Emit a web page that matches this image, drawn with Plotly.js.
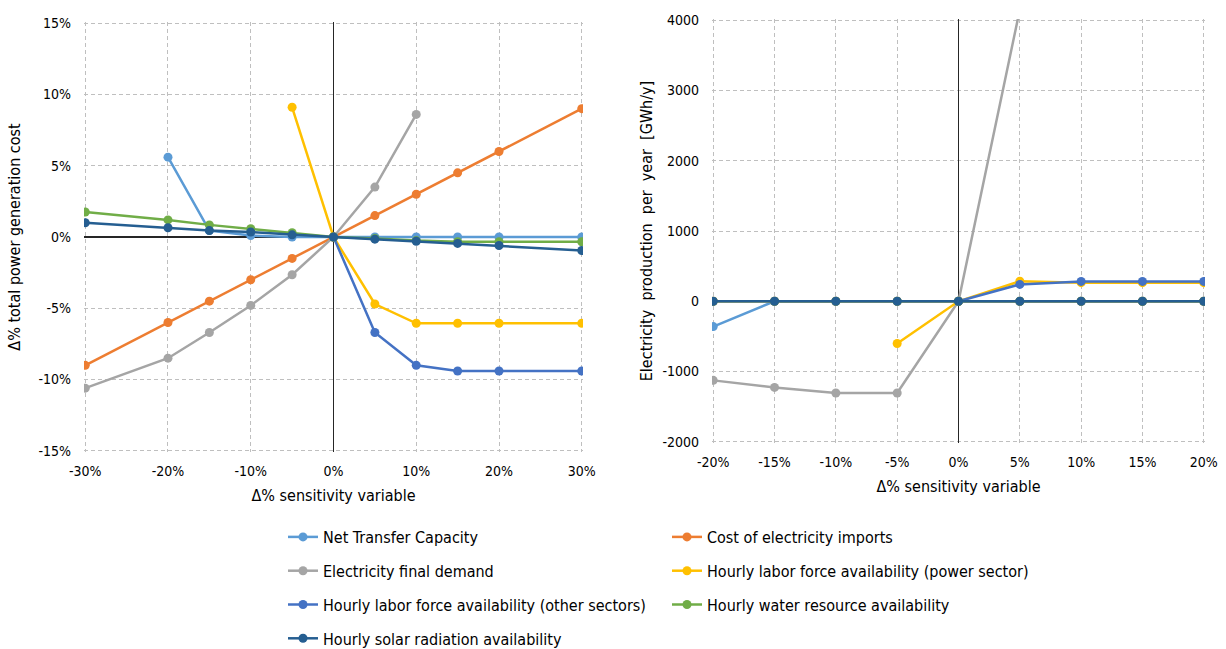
<!DOCTYPE html>
<html>
<head>
<meta charset="utf-8">
<script src="https://cdn.plot.ly/plotly-3.0.1.min.js"></script>
<style>html,body{margin:0;padding:0;background:#fff;}#chart{width:1226px;height:649px;}</style>
</head>
<body>
<div id="chart"></div>
<script>
// ---- Data ----
const seriesNames = [
  "Net Transfer Capacity",
  "Cost of electricity imports",
  "Electricity final demand",
  "Hourly labor force availability (power sector)",
  "Hourly labor force availability (other sectors)",
  "Hourly water resource availability",
  "Hourly solar radiation availability"
];
const seriesColors = ["#5B9BD5", "#ED7D31", "#A5A5A5", "#FFC000", "#4472C4", "#70AD47", "#255E91"];

// Left chart: Δ% total power generation cost (%)
const leftX = [-30, -20, -15, -10, -5, 0, 5, 10, 15, 20, 30];
const ntcL = [null, 5.6, 0.45, 0.1, 0, 0, 0, 0, 0, 0, 0];
const costL = [-9, -6, -4.5, -3, -1.5, 0, 1.5, 3, 4.5, 6, 9];
const demandL = [-10.6, -8.5, -6.7, -4.8, -2.65, 0, 3.5, 8.6, null, null, null];
const laborPowerL = [null, null, null, null, 9.1, 0, -4.7, -6.05, -6.05, -6.05, -6.05];
const laborOtherL = [null, null, null, null, null, 0, -6.7, -9.0, -9.4, -9.4, -9.4];
const waterL = [1.75, 1.2, 0.85, 0.58, 0.3, 0, -0.1, -0.25, -0.33, -0.33, -0.33];
const solarL = [1.0, 0.65, 0.45, 0.35, 0.15, 0, -0.15, -0.3, -0.45, -0.6, -0.95];

// Right chart: Electricity production per year [GWh/y]
const rightX = [-20, -15, -10, -5, 0, 5, 10, 15, 20];
const ntcR = [-360, 0, 0, 0, 0, 0, 0, 0, 0];
const costR = [0, 0, 0, 0, 0, 0, 0, 0, 0];
const demandR = [-1125, -1225, -1305, -1305, 0, 4150, null, null, null];
const laborPowerR = [null, null, null, -600, 0, 285, 265, 265, 265];
const laborOtherR = [null, null, null, null, 0, 240, 283, 283, 283];
const waterR = [0, 0, 0, 0, 0, 0, 0, 0, 0];
const solarR = [0, 0, 0, 0, 0, 0, 0, 0, 0];

// Tick labels
const leftXTicks = [-30, -20, -10, 0, 10, 20, 30];
const leftXTickText = ["-30%", "-20%", "-10%", "0%", "10%", "20%", "30%"];
const leftYTicks = [-15, -10, -5, 0, 5, 10, 15];
const leftYTickText = ["-15%", "-10%", "-5%", "0%", "5%", "10%", "15%"];
const rightXTicks = [-20, -15, -10, -5, 0, 5, 10, 15, 20];
const rightXTickText = ["-20%", "-15%", "-10%", "-5%", "0%", "5%", "10%", "15%", "20%"];
const rightYTicks = [-2000, -1000, 0, 1000, 2000, 3000, 4000];
const rightYTickText = ["-2000", "-1000", "0", "1000", "2000", "3000", "4000"];

// Legend column assignment (Excel order, two columns)
const legendCol = ["legend", "legend2", "legend", "legend2", "legend", "legend2", "legend"];

const leftSeries = [ntcL, costL, demandL, laborPowerL, laborOtherL, waterL, solarL];
const rightSeries = [ntcR, costR, demandR, laborPowerR, laborOtherR, waterR, solarR];

const FONT = "DejaVu Sans Condensed, DejaVu Sans, sans-serif";
const FS = 16, TFS = 14;
const traces = [];
leftSeries.forEach((ys, i) => {
  traces.push({
    x: leftX, y: ys, type: "scatter", mode: "lines+markers",
    name: seriesNames[i], legendgroup: "g" + i, legend: legendCol[i],
    line: {color: seriesColors[i], width: 2.5},
    marker: {color: seriesColors[i], size: 9},
    xaxis: "x", yaxis: "y", showlegend: true
  });
});
rightSeries.forEach((ys, i) => {
  traces.push({
    x: rightX, y: ys, type: "scatter", mode: "lines+markers",
    name: seriesNames[i], legendgroup: "g" + i,
    line: {color: seriesColors[i], width: 2.5},
    marker: {color: seriesColors[i], size: 9},
    xaxis: "x2", yaxis: "y2", showlegend: false
  });
});

const W = 1226, H = 649;
const gridStyle = {showgrid: true, gridcolor: "#BFBFBF", griddash: "4px,3px", gridwidth: 1,
  zeroline: true, zerolinecolor: "#262626", zerolinewidth: 1.25, showline: false, ticks: "",
  tickfont: {family: FONT, size: TFS, color: "#000"}, fixedrange: true};

const layout = {
  width: W, height: H,
  margin: {l: 0, r: 0, t: 0, b: 0, autoexpand: false},
  paper_bgcolor: "#fff", plot_bgcolor: "#fff",
  font: {family: FONT, size: FS, color: "#000"},
  showlegend: true,
  xaxis: Object.assign({}, gridStyle, {
    domain: [84 / W, 583 / W], range: [-30.15, 30.15], tickvals: leftXTicks, ticktext: leftXTickText,
    anchor: "y", ticklabelstandoff: 9,
    title: {text: "Δ% sensitivity variable", font: {family: FONT, size: FS}, standoff: 11}
  }),
  yaxis: Object.assign({}, gridStyle, {
    domain: [1 - 452 / H, 1 - 22 / H], range: [-15.08, 15.08], tickvals: leftYTicks, ticktext: leftYTickText,
    anchor: "x", ticklabelstandoff: 12,
    title: {text: "Δ% total power generation cost", font: {family: FONT, size: FS}, standoff: 13}
  }),
  xaxis2: Object.assign({}, gridStyle, {
    domain: [712 / W, 1205 / W], range: [-20.1, 20.1], tickvals: rightXTicks, ticktext: rightXTickText,
    anchor: "y2", ticklabelstandoff: 9,
    title: {text: "Δ% sensitivity variable", font: {family: FONT, size: FS}, standoff: 11}
  }),
  yaxis2: Object.assign({}, gridStyle, {
    domain: [1 - 443 / H, 1 - 19 / H], range: [-2016, 4016], tickvals: rightYTicks, ticktext: rightYTickText,
    anchor: "x2", ticklabelstandoff: 12,
    title: {text: "Electricity  production  per  year  [GWh/y]", font: {family: FONT, size: FS}, standoff: 5}
  }),
  legend: {x: 283 / W, xanchor: "left", y: 1 - 520 / H, yanchor: "top", orientation: "v",
    tracegroupgap: 10, font: {family: FONT, size: FS, color: "#000"}, bgcolor: "rgba(0,0,0,0)"},
  legend2: {x: 667 / W, xanchor: "left", y: 1 - 520 / H, yanchor: "top", orientation: "v",
    tracegroupgap: 10, font: {family: FONT, size: FS, color: "#000"}, bgcolor: "rgba(0,0,0,0)"}
};

Plotly.newPlot("chart", traces, layout, {displayModeBar: false, staticPlot: true});
</script>
</body>
</html>
